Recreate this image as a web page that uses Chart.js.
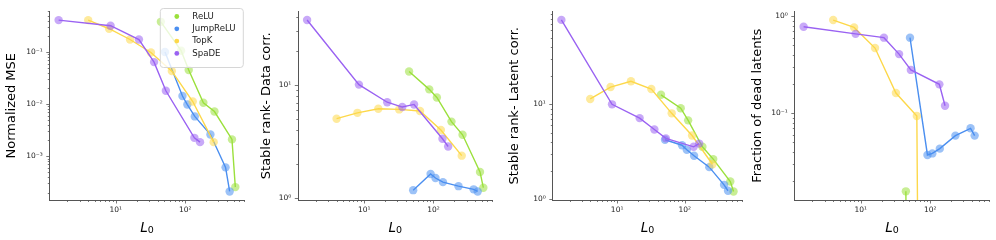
<!DOCTYPE html>
<html>
<head>
<meta charset="utf-8">
<script src="https://cdn.jsdelivr.net/npm/chart.js@4.4.1/dist/chart.umd.min.js"></script>
<style>
  body { margin: 0; background: #fff; width: 996px; height: 240px; position: relative; overflow: hidden; }
  .panel { position: absolute; top: 0; height: 240px; }
</style>
</head>
<body>
<script>
// models and colours
const models = ['ReLU', 'JumpReLU', 'TopK', 'SpaDE'];
const colors = ['#9be03c', '#4b8ff0', '#fdd84a', '#9a62f2'];
const markerColors = ['rgba(155,224,60,0.55)', 'rgba(75,143,240,0.55)', 'rgba(253,216,74,0.55)', 'rgba(154,98,242,0.55)'];

// L0 of each run
const l0ReLU = [44.5, 87, 112, 182, 263, 470, 525];
const l0Jump = [51, 91, 107, 137, 230, 380, 435];
const l0TopK = [4, 8, 16, 32, 64, 128, 256];
const l0SpaDE = [1.5, 8.4, 21.5, 35.5, 52.5, 135, 163];

// normalized MSE
const mseReLU = [0.38, 0.106, 0.045, 0.0106, 0.0072, 0.0021, 0.000255];
const mseJump = [0.10, 0.0143, 0.0098, 0.0058, 0.0026, 0.00061, 0.00021];
const mseTopK = [0.41, 0.28, 0.174, 0.098, 0.043, 0.0112, 0.00186];
const mseSpaDE = [0.41, 0.32, 0.174, 0.064, 0.018, 0.00225, 0.00186];

// stable rank of data correlation
const dataReLU = [13.2, 9.17, 7.78, 4.76, 3.64, 1.71, 1.24];
const dataJump = [1.18, 1.64, 1.51, 1.39, 1.28, 1.2, 1.15];
const dataTopK = [5.05, 5.69, 6.18, 6.1, 5.9, 4.01, 2.38];
const dataSpaDE = [37.6, 10.1, 7.06, 6.4, 6.75, 3.36, 2.87];

// stable rank of latent correlation
const latReLU = [12.6, 9.1, 6.78, 3.57, 2.65, 1.54, 1.21];
const latJump = [4.24, 3.71, 3.33, 2.87, 2.18, 1.42, 1.23];
const latTopK = [11.4, 15.2, 17.5, 14.5, 8.04, 4.69, 2.34];
const latSpaDE = [77.5, 10, 7.16, 5.44, 4.38, 3.57, 3.86];

// fraction of dead latents (0 = none dead)
const deadReLU = [0.0156, 0, 0, 0, 0, 0, 0];
const deadJump = [0.60, 0.037, 0.0384, 0.043, 0.0586, 0.0697, 0.0586];
const deadTopK = [0.912, 0.766, 0.469, 0.161, 0.0933, 0, 0];
const deadSpaDE = [0.777, 0.657, 0.60, 0.406, 0.279, 0.198, 0.119];

const l0s = [l0ReLU, l0Jump, l0TopK, l0SpaDE];
const xMin = 1.12, xMax = 703;

const panels = [
  { title: 'Normalized MSE', ys: [mseReLU, mseJump, mseTopK, mseSpaDE], ymin: 1.44e-4, ymax: 0.6,
    left: 50, right: 245, top: 5, titleX: 12, legend: true },
  { title: 'Stable rank- Data corr.', ys: [dataReLU, dataJump, dataTopK, dataSpaDE], ymin: 0.966, ymax: 44.7,
    left: 298, right: 493, top: 6, titleX: 266.5 },
  { title: 'Stable rank- Latent corr.', ys: [latReLU, latJump, latTopK, latSpaDE], ymin: 0.983, ymax: 95,
    left: 553, right: 743, top: 6, titleX: 515 },
  { title: 'Fraction of dead latents', ys: [deadReLU, deadJump, deadTopK, deadSpaDE], ymin: 0.0127, ymax: 1.117,
    left: 795, right: 990, top: 6, titleX: 758 }
];

const FONT = "'DejaVu Sans', sans-serif";
const sup = { '-': '\u207B', '0': '\u2070', '1': '\u00B9', '2': '\u00B2', '3': '\u00B3' };

function logTicks(min, max) {
  const out = [];
  for (let e = Math.floor(Math.log10(min)); e <= Math.ceil(Math.log10(max)); e++) {
    for (let k = 1; k <= 9; k++) {
      const v = k * Math.pow(10, e);
      if (v >= min * 0.999 && v <= max * 1.001) out.push({ value: v, major: k === 1 });
    }
  }
  return out;
}

function powLabel(v) {
  const e = Math.round(Math.log10(v));
  return '10' + String(e).split('').map(c => sup[c]).join('');
}

// short outward tick marks, longer for decades
const tickMarks = {
  id: 'tickMarks',
  afterDraw(chart) {
    const ctx = chart.ctx, xs = chart.scales.x, ys = chart.scales.y;
    ctx.save();
    ctx.strokeStyle = '#555';
    ctx.lineWidth = 0.8;
    ctx.beginPath();
    xs.ticks.forEach(t => {
      const p = Math.round(xs.getPixelForValue(t.value)) + 0.5;
      ctx.moveTo(p, xs.top);
      ctx.lineTo(p, xs.top + (t.major ? 3.5 : 2));
    });
    ys.ticks.forEach(t => {
      const p = Math.round(ys.getPixelForValue(t.value)) + 0.5;
      ctx.moveTo(ys.right, p);
      ctx.lineTo(ys.right - (t.major ? 3.5 : 2), p);
    });
    ctx.stroke();
    ctx.restore();
  }
};

// x label L_0 with subscript
const l0Title = {
  id: 'l0Title',
  afterDraw(chart) {
    const ctx = chart.ctx, a = chart.chartArea;
    const cx = (a.left + a.right) / 2;
    ctx.save();
    ctx.fillStyle = '#000';
    ctx.textBaseline = 'alphabetic';
    ctx.font = 'italic 13.5px ' + FONT;
    const wL = ctx.measureText('L').width;
    ctx.font = '9.5px ' + FONT;
    const w0 = ctx.measureText('0').width;
    const x0 = cx - (wL + w0) / 2;
    ctx.font = 'italic 13.5px ' + FONT;
    ctx.fillText('L', x0, 231.5);
    ctx.font = '9.5px ' + FONT;
    ctx.fillText('0', x0 + wL, 233);
    ctx.restore();
  }
};

function legendPlugin(offsetX) {
  return {
    id: 'boxLegend',
    afterDraw(chart) {
      const ctx = chart.ctx;
      const bx = 160 - offsetX, by = 8, bw = 83, bh = 59;
      ctx.save();
      ctx.beginPath();
      ctx.roundRect(bx + 0.5, by + 0.5, bw, bh, 3);
      ctx.fillStyle = 'rgba(255,255,255,0.8)';
      ctx.fill();
      ctx.strokeStyle = '#d6d6d6';
      ctx.lineWidth = 1;
      ctx.stroke();
      ctx.font = '8.6px ' + FONT;
      ctx.textBaseline = 'middle';
      models.forEach((m, i) => {
        const y = 16.5 + i * 12.3;
        ctx.beginPath();
        ctx.arc(177 - offsetX, y, 2.4, 0, Math.PI * 2);
        ctx.fillStyle = colors[i];
        ctx.fill();
        ctx.fillStyle = '#222';
        ctx.fillText(m, 192.5 - offsetX, y);
      });
      ctx.restore();
    }
  };
}

panels.forEach((p, idx) => {
  const canvasLeft = p.titleX - 7.8;
  const width = Math.round(p.right + 5 - canvasLeft);
  const yWidth = p.left - canvasLeft;
  const div = document.createElement('div');
  div.className = 'panel';
  div.style.left = canvasLeft + 'px';
  div.style.width = width + 'px';
  const canvas = document.createElement('canvas');
  canvas.width = width;
  canvas.height = 240;
  div.appendChild(canvas);
  document.body.appendChild(div);

  // log axes: clip zeros far below the axis like matplotlib does
  const datasets = models.map((m, i) => ({
    label: m,
    data: l0s[i].map((x, j) => ({ x: x, y: p.ys[i][j] > 0 ? p.ys[i][j] : 1e-30 })),
    borderColor: colors[i],
    backgroundColor: markerColors[i],
    borderWidth: 1.4,
    pointRadius: 4.2,
    pointBorderWidth: 0,
    pointBackgroundColor: markerColors[i],
    tension: 0,
    order: 3 - i
  }));

  const plugins = [tickMarks, l0Title];
  if (p.legend) plugins.push(legendPlugin(canvasLeft));

  new Chart(canvas.getContext('2d'), {
    type: 'line',
    data: { datasets: datasets },
    options: {
      responsive: false,
      animation: false,
      devicePixelRatio: 1,
      layout: { padding: { top: p.top, right: 5, left: 0, bottom: 0 } },
      plugins: { legend: { display: false }, tooltip: { enabled: false } },
      scales: {
        x: {
          type: 'logarithmic',
          min: xMin, max: xMax, bounds: 'data',
          afterBuildTicks: s => { s.ticks = logTicks(xMin, xMax); },
          afterFit: s => { s.height = 40; },
          grid: { display: false, drawTicks: false },
          border: { display: true, color: '#555', width: 1 },
          ticks: {
            autoSkip: false, maxRotation: 0, padding: 6,
            font: { family: FONT, size: 7.5 }, color: '#222',
            callback: (v, i, t) => t[i].major ? powLabel(v) : ''
          }
        },
        y: {
          type: 'logarithmic',
          min: p.ymin, max: p.ymax, bounds: 'data',
          afterBuildTicks: s => { s.ticks = logTicks(p.ymin, p.ymax); },
          afterFit: s => { s.width = yWidth; },
          grid: { display: false, drawTicks: false },
          border: { display: true, color: '#555', width: 1 },
          title: { display: true, text: p.title, color: '#000', padding: 0, font: { family: FONT, size: 13 } },
          ticks: {
            autoSkip: false, padding: 7,
            font: { family: FONT, size: 7.5 }, color: '#222',
            callback: (v, i, t) => t[i].major ? powLabel(v) : ''
          }
        }
      }
    },
    plugins: plugins
  });
});
</script>
</body>
</html>
